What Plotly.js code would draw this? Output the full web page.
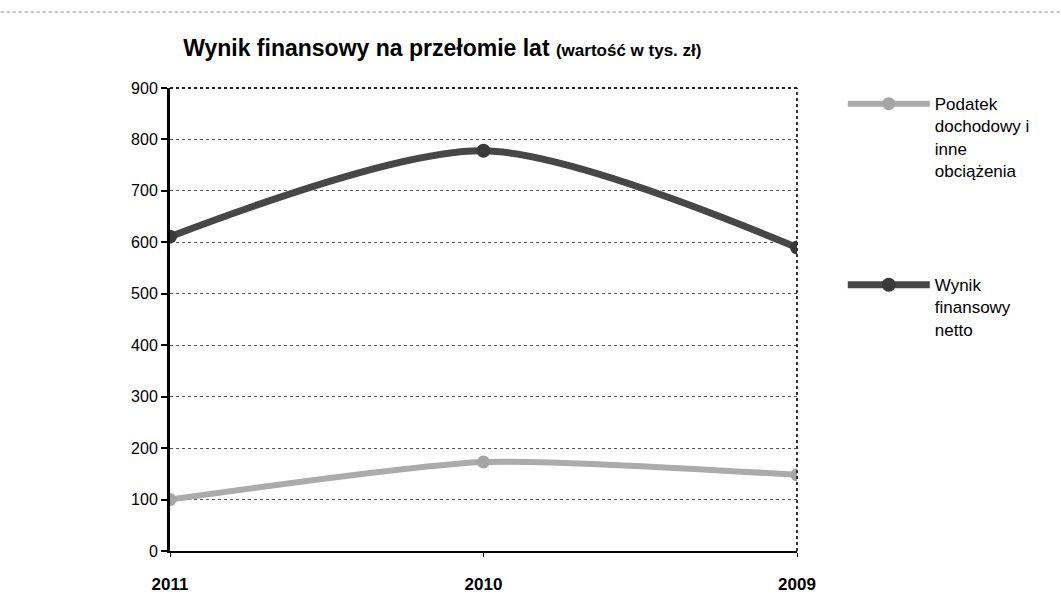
<!DOCTYPE html>
<html>
<head>
<meta charset="utf-8">
<script src="https://cdn.plot.ly/plotly-3.0.1.min.js"></script>
<style>html,body{margin:0;padding:0;background:#fff;}#chart{width:1061px;height:603px;}</style>
</head>
<body>
<div id="chart"></div>
<script>
// Data
const years = ['2011', '2010', '2009'];
const podatek = [100, 173, 148];
const wynik = [611, 778, 590];
const seriesNames = ['Podatek<br>dochodowy i<br>inne<br>obciążenia', 'Wynik<br>finansowy<br>netto'];
const yTicks = [0, 100, 200, 300, 400, 500, 600, 700, 800, 900];

const font = 'Liberation Sans, Arial, sans-serif';

const traces = [
  {
    x: years, y: podatek, name: seriesNames[0], type: 'scatter', mode: 'lines+markers',
    line: {color: '#ababab', width: 6, shape: 'spline', smoothing: 0.6},
    marker: {color: '#a5a5a5', size: 13, symbol: 'circle'},
    legend: 'legend'
  },
  {
    x: years, y: wynik, name: seriesNames[1], type: 'scatter', mode: 'lines+markers',
    line: {color: '#474747', width: 7, shape: 'spline', smoothing: 0.8},
    marker: {color: '#3a3a3a', size: 14, symbol: 'circle'},
    legend: 'legend2'
  }
];

const layout = {
  width: 1061, height: 603,
  paper_bgcolor: '#fff', plot_bgcolor: '#fff',
  margin: {l: 170, r: 264, t: 88, b: 52},
  font: {family: font, color: '#000'},
  title: {
    text: '<b>Wynik finansowy na przełomie lat</b> <span style="font-size:17px"><b>(wartość w tys. zł)</b></span>',
    font: {family: font, size: 23, color: '#000'},
    x: 0.021, xanchor: 'left', xref: 'paper', y: 0.92, yanchor: 'middle'
  },
  xaxis: {
    type: 'category', range: [0, 2], showgrid: false,
    showline: true, linecolor: '#000', linewidth: 2,
    ticks: 'outside', ticklen: 4, tickcolor: '#000', ticklabelstandoff: 13,
    tickfont: {family: font, size: 17, color: '#000', weight: 'bold'},
    zeroline: false, fixedrange: true
  },
  yaxis: {
    range: [0, 900], tickvals: yTicks, ticktext: yTicks.map(String),
    showgrid: true, gridcolor: '#555', griddash: 'dot', gridwidth: 1,
    showline: true, linecolor: '#000', linewidth: 3,
    ticks: 'outside', ticklen: 6, tickcolor: '#000', tickwidth: 2,
    tickfont: {family: font, size: 16, color: '#000'},
    zeroline: false, fixedrange: true
  },
  shapes: [
    {type: 'line', xref: 'paper', yref: 'paper', x0: 1, x1: 1, y0: 0, y1: 1,
     line: {color: '#333', width: 2, dash: 'dot'}},
    {type: 'line', xref: 'paper', yref: 'paper', x0: 0, x1: 1, y0: 1, y1: 1,
     line: {color: '#222', width: 2, dash: 'dot'}},
    {type: 'line', xref: 'paper', yref: 'paper', x0: -0.27, x1: 1.42, y0: 1.164, y1: 1.164,
     line: {color: '#888', width: 1, dash: 'dot'}}
  ],
  legend: {
    x: 1.073, y: 1.004, xanchor: 'left', yanchor: 'top',
    font: {family: font, size: 17, color: '#000'},
    itemwidth: 82, bgcolor: 'rgba(0,0,0,0)', borderwidth: 0, valign: 'top'
  },
  legend2: {
    x: 1.073, y: 0.613, xanchor: 'left', yanchor: 'top',
    font: {family: font, size: 17, color: '#000'},
    itemwidth: 82, bgcolor: 'rgba(0,0,0,0)', borderwidth: 0, valign: 'top'
  },
  showlegend: true
};

Plotly.newPlot('chart', traces, layout, {displayModeBar: false, staticPlot: true});
</script>
</body>
</html>
